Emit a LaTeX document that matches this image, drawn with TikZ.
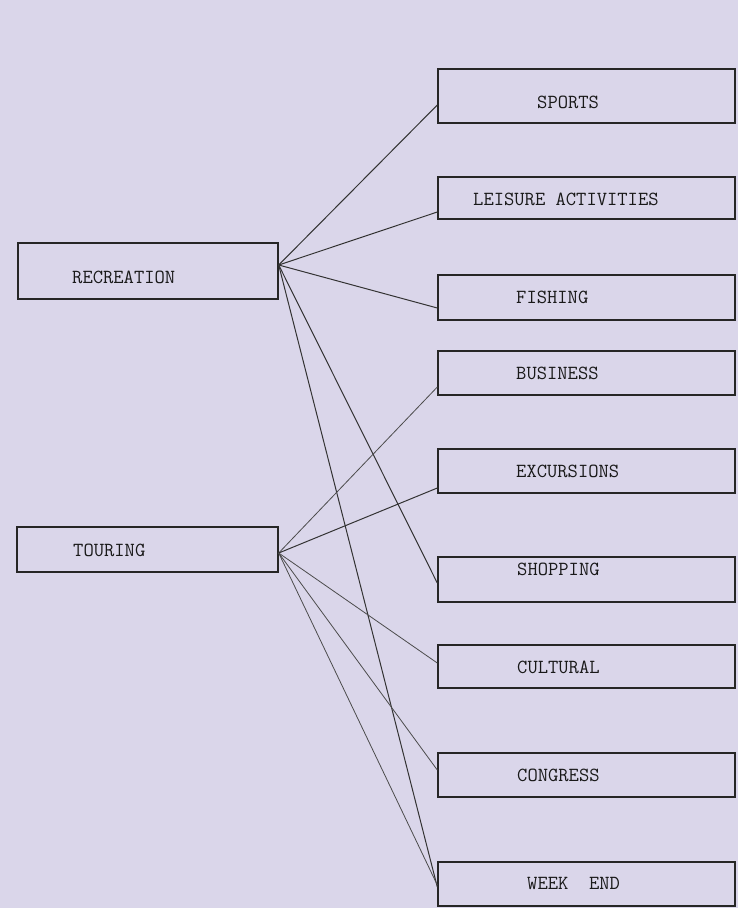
\documentclass[tikz,border=0pt]{standalone}
\begin{document}
\begin{tikzpicture}[x=1pt,y=-1pt,
  box/.style={draw=black!85,line width=1.4pt,rectangle,inner sep=0pt},
  lbl/.style={anchor=west,inner sep=0pt,font=\fontsize{20}{24}\selectfont\ttfamily,text=black!90},
  link/.style={draw=black!80,line width=1pt},
  thin link/.style={draw=black!70,line width=0.8pt}]
\definecolor{paper}{RGB}{218,214,234}
\fill[paper] (0,0) rectangle (738,908);
\useasboundingbox (0,0) rectangle (738,908);
% left boxes
\node[box,minimum width=260pt,minimum height=56pt] (rec) at (148,271) {};
\node[box,minimum width=261pt,minimum height=45pt] (tour) at (147.5,549.5) {};
% right boxes
\node[box,minimum width=297pt,minimum height=54pt] (sports) at (586.5,96) {};
\node[box,minimum width=297pt,minimum height=42pt] (leis) at (586.5,198) {};
\node[box,minimum width=297pt,minimum height=45pt] (fish) at (586.5,297.5) {};
\node[box,minimum width=297pt,minimum height=44pt] (bus) at (586.5,373) {};
\node[box,minimum width=297pt,minimum height=44pt] (exc) at (586.5,471) {};
\node[box,minimum width=297pt,minimum height=45pt] (shop) at (586.5,579.5) {};
\node[box,minimum width=297pt,minimum height=43pt] (cult) at (586.5,666.5) {};
\node[box,minimum width=297pt,minimum height=44pt] (cong) at (586.5,775) {};
\node[box,minimum width=297pt,minimum height=44pt] (week) at (586.5,884) {};
% labels
\node[lbl] (trec) at (72,277) {RECREATION};
\node[lbl] (ttour) at (73,550) {TOURING};
\node[lbl] (tsports) at (537,102) {SPORTS};
\node[lbl] (tleis) at (473,199) {LEISURE ACTIVITIES};
\node[lbl] (tfish) at (516,297) {FISHING};
\node[lbl] (tbus) at (516,373) {BUSINESS};
\node[lbl] (texc) at (516,471) {EXCURSIONS};
\node[lbl] (tshop) at (517,569) {SHOPPING};
\node[lbl] (tcult) at (517,667) {CULTURAL};
\node[lbl] (tcong) at (517,775) {CONGRESS};
\node[lbl] (tweek) at (527,883) {WEEK\ \ END};
% connectors from RECREATION
\draw[link] (rec.east |- 0,265) -- (sports.west |- 0,105);
\draw[link] (rec.east |- 0,265) -- (leis.west |- 0,212);
\draw[link] (rec.east |- 0,265) -- (fish.west |- 0,308);
\draw[link] (rec.east |- 0,265) -- (shop.west |- 0,583);
\draw[link] (rec.east |- 0,265) -- (week.west |- 0,887);
% connectors from TOURING
\draw[thin link] (tour.east |- 0,553) -- (bus.west |- 0,387);
\draw[link] (tour.east |- 0,553) -- (exc.west |- 0,488);
\draw[thin link] (tour.east |- 0,553) -- (cult.west |- 0,663);
\draw[thin link] (tour.east |- 0,553) -- (cong.west |- 0,770);
\draw[thin link] (tour.east |- 0,553) -- (week.west |- 0,885);
\end{tikzpicture}
\end{document}
